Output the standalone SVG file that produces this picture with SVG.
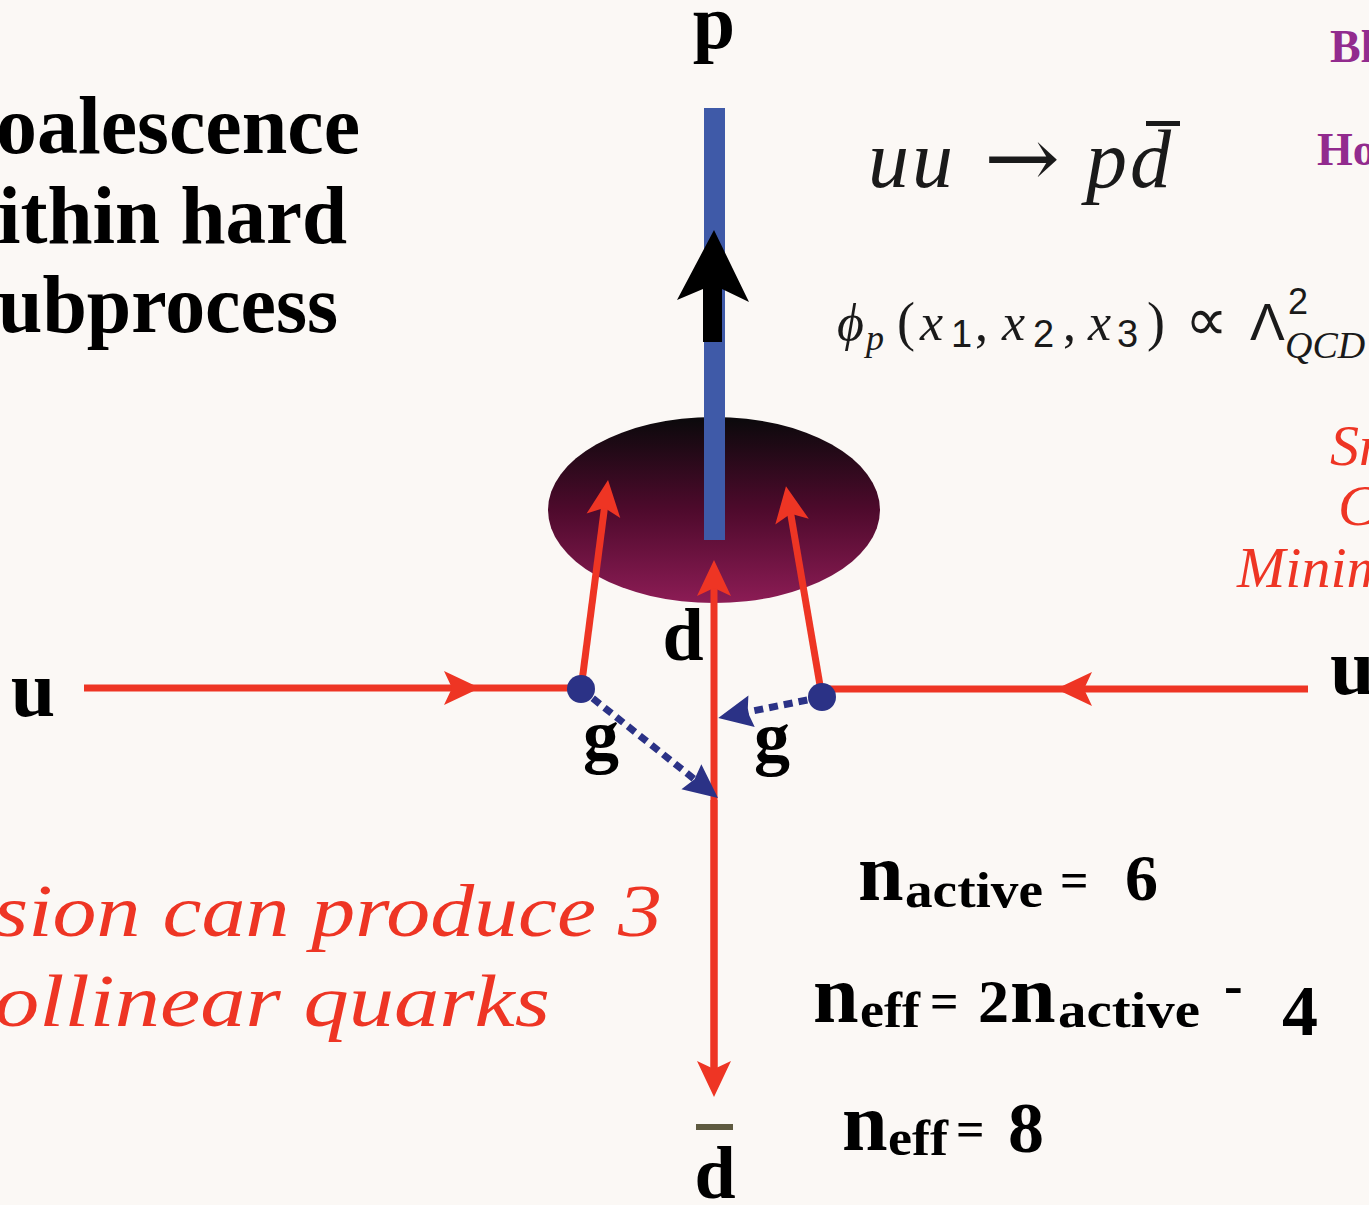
<svg xmlns="http://www.w3.org/2000/svg" width="1369" height="1205" viewBox="0 0 1369 1205">
<defs>
<style>
.bs{font-family:"Liberation Serif",serif;font-weight:bold;fill:#000}
.mi{font-family:"Liberation Serif",serif;font-style:italic;fill:#1a1a1a}
.mr{font-family:"Liberation Serif",serif;fill:#1a1a1a}
.ms{font-family:"Liberation Sans",sans-serif;fill:#1a1a1a}
.scr{font-family:"Liberation Serif",serif;font-style:italic;fill:#ee3524}
.pur{font-family:"Liberation Serif",serif;font-weight:bold;fill:#922b8e}
.red{stroke:#ee3524;stroke-width:7;fill:none}
.glu{stroke:#2b3286;stroke-width:7;fill:none;stroke-dasharray:9 6}
</style>
<linearGradient id="blob" x1="0" y1="0" x2="0" y2="1">
<stop offset="0" stop-color="#0a090b"/>
<stop offset="0.5" stop-color="#4e0a2c"/>
<stop offset="1" stop-color="#8c1c55"/>
</linearGradient>
<marker id="ra" viewBox="-40 -20 45 40" refX="-12" refY="0" markerWidth="45" markerHeight="40" markerUnits="userSpaceOnUse" orient="auto">
<path d="M0,0 L-36,-17 L-28,0 L-36,17 Z" fill="#ee3524"/>
</marker>
<marker id="ba" viewBox="-40 -20 45 40" refX="-12" refY="0" markerWidth="45" markerHeight="40" markerUnits="userSpaceOnUse" orient="auto">
<path d="M0,0 L-34,-16 L-30,0 L-34,16 Z" fill="#2b3286"/>
</marker>
</defs>
<rect width="1369" height="1205" fill="#fbf8f5"/>

<g id="title">
<text class="bs" x="-4" y="153" font-size="82" textLength="364" lengthAdjust="spacingAndGlyphs">oalescence</text>
<text class="bs" x="-2" y="243" font-size="82" textLength="349" lengthAdjust="spacingAndGlyphs">ithin hard</text>
<text class="bs" x="-2" y="332" font-size="82" textLength="340" lengthAdjust="spacingAndGlyphs">ubprocess</text>
</g>

<g id="blob-node">
<ellipse cx="714" cy="510" rx="166" ry="93" fill="url(#blob)"/>
</g>

<g id="proton">
<rect x="704" y="108" width="21" height="432" fill="#3f5aa8"/>
<polygon points="714,230 749,302 722,289 722,342 703,342 703,289 677,300" fill="#000"/>
<text class="bs" x="714" y="48" font-size="76" text-anchor="middle">p</text>
</g>

<g id="connectors">
<path class="red" d="M84,688 L468,688" marker-end="url(#ra)"/>
<path class="red" d="M466,688 L581,688"/>
<path class="red" d="M1308,689 L1068,689" marker-end="url(#ra)"/>
<path class="red" d="M1070,689 L822,689"/>
<path class="red" d="M581,689 L606.5,492" marker-end="url(#ra)"/>
<path class="red" d="M822,697 L788,498" marker-end="url(#ra)"/>
<path class="red" d="M714,1083 L714,572" marker-end="url(#ra)"/>
<path class="red" d="M714,800 L714,1085" marker-end="url(#ra)"/>
<path class="glu" d="M581,689 L708.6,790.5" marker-end="url(#ba)"/>
<path class="glu" d="M822,697 L730,715.6" marker-end="url(#ba)"/>
</g>

<g id="vertex-left"><circle cx="581" cy="689" r="14" fill="#2b3286"/></g>
<g id="vertex-right"><circle cx="822" cy="697" r="14" fill="#2b3286"/></g>

<g id="labels">
<text class="bs" x="33" y="716" font-size="80" text-anchor="middle">u</text>
<text class="bs" x="1330" y="694" font-size="80">u</text>
<text class="bs" x="683" y="660" font-size="74" text-anchor="middle">d</text>
<text class="bs" x="601" y="760" font-size="72" text-anchor="middle">g</text>
<text class="bs" x="772" y="762" font-size="72" text-anchor="middle">g</text>
<rect x="696" y="1124" width="37" height="6" fill="#5e5a40"/>
<text class="bs" x="715" y="1198" font-size="74" text-anchor="middle">d</text>
</g>

<g id="reaction">
<text class="mi" y="187" font-size="82"><tspan x="868">u</tspan><tspan x="912">u</tspan></text>
<text x="984" y="187" font-size="84" fill="#1a1a1a" font-family="'DejaVu Serif',serif" textLength="76" lengthAdjust="spacingAndGlyphs">→</text>
<text class="mi" y="187" font-size="82"><tspan x="1086">p</tspan><tspan x="1130">d</tspan></text>
<rect x="1146" y="121" width="34" height="5" fill="#1a1a1a"/>
</g>

<g id="formula">
<text class="mi" x="837" y="340" font-size="52">ϕ</text>
<text class="mi" x="866" y="350" font-size="36">p</text>
<text class="mr" x="897" y="340" font-size="54">(</text>
<text class="mi" x="920" y="340" font-size="52">x</text>
<text class="ms" x="951" y="347" font-size="38">1</text>
<text class="mr" x="975" y="340" font-size="52">,</text>
<text class="mi" x="1002" y="340" font-size="52">x</text>
<text class="ms" x="1033" y="347" font-size="38">2</text>
<text class="mr" x="1063" y="340" font-size="52">,</text>
<text class="mi" x="1088" y="340" font-size="52">x</text>
<text class="ms" x="1117" y="347" font-size="38">3</text>
<text class="mr" x="1147" y="340" font-size="54">)</text>
<text class="mr" x="1185" y="340" font-size="60">∝</text>
<text class="ms" x="1250" y="340" font-size="52">Λ</text>
<text class="ms" x="1288" y="314" font-size="36">2</text>
<text class="mi" x="1285" y="358" font-size="38">QCD</text>
</g>

<g id="side-notes">
<text class="pur" x="1330" y="62" font-size="46">Bl</text>
<text class="pur" x="1317" y="165" font-size="46">Ho</text>
<text class="scr" x="1330" y="465" font-size="58">Sm</text>
<text class="scr" x="1338" y="525" font-size="58">C</text>
<text class="scr" x="1237" y="587" font-size="58">Minim</text>
</g>

<g id="note-bottom">
<text class="scr" x="-6" y="936" font-size="74" textLength="668" lengthAdjust="spacingAndGlyphs">sion can produce 3</text>
<text class="scr" x="-6" y="1026" font-size="74" textLength="556" lengthAdjust="spacingAndGlyphs">ollinear quarks</text>
</g>

<g id="counting">
<text class="bs" y="900"><tspan x="858" font-size="82">n</tspan><tspan x="905" y="907" font-size="50" textLength="138" lengthAdjust="spacingAndGlyphs">active</tspan></text>
<text class="bs" x="1060" y="897" font-size="50">=</text>
<text class="bs" x="1125" y="900" font-size="66">6</text>

<text class="bs" y="1022"><tspan x="813" font-size="82">n</tspan><tspan x="860" y="1027" font-size="50" textLength="60" lengthAdjust="spacingAndGlyphs">eff</tspan></text>
<text class="bs" x="930" y="1018" font-size="50">=</text>
<text class="bs" x="978" y="1022" font-size="62">2</text>
<text class="bs" y="1022"><tspan x="1010" font-size="82">n</tspan><tspan x="1058" y="1027" font-size="50" textLength="142" lengthAdjust="spacingAndGlyphs">active</tspan></text>
<text class="bs" x="1224" y="1004" font-size="56">-</text>
<text class="bs" x="1282" y="1035" font-size="72">4</text>

<text class="bs" y="1150"><tspan x="842" font-size="82">n</tspan><tspan x="888" y="1155" font-size="50" textLength="60" lengthAdjust="spacingAndGlyphs">eff</tspan></text>
<text class="bs" x="956" y="1146" font-size="50">=</text>
<text class="bs" x="1008" y="1152" font-size="72">8</text>
</g>
</svg>
